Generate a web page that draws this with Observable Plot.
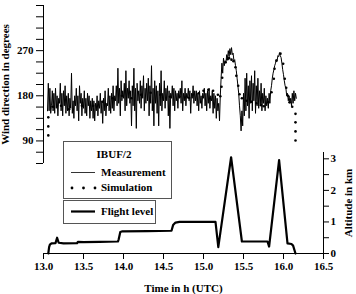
<!DOCTYPE html>
<html><head><meta charset="utf-8">
<script src="https://cdn.jsdelivr.net/npm/d3@7"></script>
<script src="https://cdn.jsdelivr.net/npm/@observablehq/plot@0.6"></script>
<style>
body{margin:0;background:#fff;}
#wrap{position:relative;width:356px;height:294px;font-family:"Liberation Serif","Times New Roman",serif;}
#wrap svg{position:absolute;left:0;top:0;}
</style></head><body><div id="wrap"></div>
<script>
// ---- data ----
const timeTicks = [13.0, 13.5, 14.0, 14.5, 15.0, 15.5, 16.0, 16.5];
const windTicks = [45, 67.5, 90, 112.5, 135, 157.5, 180, 202.5, 225, 247.5, 270, 292.5, 315, 337.5, 360];
const windLabels = [90, 180, 270];
const altTicks = [0, 0.5, 1, 1.5, 2, 2.5, 3];
const altLabels = [0, 1, 2, 3];
const timeDomain = [13, 16.5];
const windDomain = [45, 360];
const altDomain = [0, 3.2];

// measurement: blocks of [start time (h), values every 0.01 h (degrees)]
const measBlocks = [
  [13.05, [150,205,150,195,145]],
  [13.10, [160,190,150,185,145,195,155,180,140,175]],
  [13.20, [165,205,150,185,140,190,160,200,145,180]],
  [13.30, [150,185,140,175,155,225,145,170,135,180]],
  [13.40, [160,195,150,180,130,200,165,185,140,175]],
  [13.50, [155,190,145,175,140,185,160,180,135,170]],
  [13.60, [150,175,135,170,130,165,150,180,140,170]],
  [13.70, [155,185,145,170,125,175,150,190,140,165]],
  [13.80, [160,195,150,180,145,185,155,200,150,180]],
  [13.90, [170,200,160,235,165,195,140,210,170,190]],
  [14.00, [175,205,150,230,160,195,175,210,165,190]],
  [14.10, [120,200,160,235,150,195,115,205,170,190]],
  [14.20, [165,210,155,200,175,220,150,195,165,205]],
  [14.30, [170,215,140,200,165,240,150,195,120,210]],
  [14.40, [165,200,145,190,120,205,160,230,150,185]],
  [14.50, [170,210,155,195,170,200,140,190,115,185]],
  [14.60, [175,200,160,195,150,190,170,185,155,190]],
  [14.70, [175,195,165,210,150,185,170,195,160,185]],
  [14.80, [175,195,170,190,145,185,175,200,165,190]],
  [14.90, [170,190,160,185,150,190,165,180,155,185]],
  [15.00, [175,195,160,185,150,190,165,195,155,180]],
  [15.10, [170,190,145,185,155,180,135,175,150,165]],
  [15.20, [130,180,215,245,225,255,240,250,245,262]],
  [15.30, [255,270,258,274,262,276,262,265,250,252]],
  [15.40, [240,230,215,200,185,160,140,110,150,120]],
  [15.50, [185,140,215,150,225,160,200,135,210,165]],
  [15.60, [220,150,205,170,230,145,200,160,215,155]],
  [15.70, [190,160,205,150,185,165,195,150,180,160]],
  [15.80, [175,155,185,165,190,200,215,225,232,240]],
  [15.90, [245,252,250,260,258,266,260,256,245,232]],
  [16.00, [222,210,200,195,180,185,170,180,165,175]],
  [16.10, [160,185,165,190,170,185,175]]
];

// simulation dots: time (h), wind direction (degrees)
const simTime = [13.06,13.06,13.06,13.12,13.22,13.32,13.48,13.62,13.74,13.86,13.98,14.10,14.22,14.34,14.46,14.58,14.70,14.82,14.94,15.00,15.06,15.12,15.18,15.21,15.225,15.234,15.275,15.30,15.32,15.35,15.375,15.40,15.41,15.434,15.45,15.48,15.54,15.60,15.66,15.72,15.754,15.81,15.85,15.879,15.888,15.912,15.962,15.996,16.016,16.034,16.054,16.075,16.109,16.15,16.15,16.15,16.15];
const simWind = [137,119,101,158,160,153,160,160,168,175,180,175,182,186,182,178,178,176,185,190,192,190,182,179,198,216,247,253,255,252,249,237,220,200,183,175,170,168,165,161,159,167,187,214,234,250,264,244,214,196,180,167,158,144,127,109,91];

// flight level: time (h), altitude (km)
const flightTime = [13.06,13.07,13.08,13.10,13.15,13.17,13.19,13.25,13.42,13.43,13.50,13.70,13.93,13.94,13.96,13.98,14.30,14.60,14.62,14.65,14.70,15.15,15.185,15.345,15.48,15.80,15.82,15.945,16.05,16.10,16.12,16.15];
const flightAlt  = [0,0.2,0.28,0.32,0.33,0.5,0.34,0.32,0.33,0.37,0.36,0.37,0.38,0.45,0.68,0.7,0.71,0.72,0.9,0.98,1.0,1.0,0.2,3.05,0.38,0.38,0.22,2.96,0.32,0.3,0.25,0];

const legendTitle = "IBUF/2";
const legendItems = ["Measurement", "Simulation", "Flight level"];

// ---- build tables ----
const meas = [];
for (const [t0, vals] of measBlocks) vals.forEach((v, i) => meas.push({t: t0 + i * 0.01, v}));
const sim = simTime.map((t, i) => ({t, v: simWind[i]}));
const flight = flightTime.map((t, i) => ({t, a: flightAlt[i]}));

const font = {background: "transparent", fontFamily: "'Liberation Serif', 'Times New Roman', serif", fontSize: "11px", fontWeight: "bold", color: "black", overflow: "visible"};

const lower = Plot.plot({
  width: 356, height: 294,
  marginLeft: 43, marginRight: 33, marginTop: 152, marginBottom: 41,
  x: {domain: timeDomain},
  y: {domain: altDomain},
  style: font,
  marks: [
    Plot.axisX({ticks: timeTicks, tickFormat: d => d.toFixed(1), tickSize: 6, tickPadding: 3,
      label: "Time in h (UTC)", labelAnchor: "center", labelOffset: 38, labelArrow: "none"}),
    Plot.axisY({anchor: "right", ticks: altTicks, tickFormat: d => altLabels.includes(d) ? String(d) : "",
      tickSize: 5, tickPadding: 2, label: "Altitude in km", labelAnchor: "center", labelOffset: 28, labelArrow: "none"}),
    Plot.ruleY([altDomain[0]], {x1: timeDomain[0], x2: timeDomain[1], stroke: "black"}),
    Plot.ruleX([timeDomain[1]], {y1: altDomain[0], y2: altDomain[1], stroke: "black"}),
    Plot.line(flight, {x: "t", y: "a", stroke: "black", strokeWidth: 2.2, strokeLinejoin: "round"})
  ]
});

const upper = Plot.plot({
  width: 356, height: 294,
  marginLeft: 43, marginRight: 33, marginTop: 5, marginBottom: 131,
  x: {domain: timeDomain, axis: null},
  y: {domain: windDomain},
  style: font,
  marks: [
    Plot.axisY({ticks: windTicks, tickFormat: d => windLabels.includes(d) ? String(d) : "",
      tickSize: 7, tickPadding: 3, label: "Wind direction in degrees", labelAnchor: "center", labelOffset: 42, labelArrow: "none"}),
    Plot.ruleX([timeDomain[0]], {y1: windDomain[0], y2: windDomain[1], stroke: "black"}),
    Plot.line(meas, {x: "t", y: "v", stroke: "black", strokeWidth: 1.0}),
    Plot.dot(sim, {x: "t", y: "v", r: 1.3, fill: "black", stroke: null})
  ]
});

const wrap = document.getElementById("wrap");
wrap.appendChild(lower);
wrap.appendChild(upper);

// legend overlay
const ns = "http://www.w3.org/2000/svg";
const leg = document.createElementNS(ns, "svg");
leg.setAttribute("width", 356); leg.setAttribute("height", 294);
leg.setAttribute("font-family", "'Liberation Serif', 'Times New Roman', serif");
leg.setAttribute("font-size", "11"); leg.setAttribute("font-weight", "bold");
function el(tag, attrs, text) {
  const e = document.createElementNS(ns, tag);
  for (const k in attrs) e.setAttribute(k, attrs[k]);
  if (text != null) e.textContent = text;
  leg.appendChild(e); return e;
}
el("rect", {x: 63.5, y: 141.5, width: 108, height: 57, fill: "white", stroke: "#555", "stroke-width": 1});
el("rect", {x: 63.5, y: 200.5, width: 92, height: 23, fill: "white", stroke: "#555", "stroke-width": 1});
el("text", {x: 114, y: 158, "text-anchor": "middle"}, legendTitle);
el("line", {x1: 71, x2: 95, y1: 172.5, y2: 172.5, stroke: "black", "stroke-width": 0.8});
el("text", {x: 101, y: 176}, legendItems[0]);
for (const cx of [72, 83.5, 95]) el("circle", {cx, cy: 188, r: 1.4, fill: "black"});
el("text", {x: 101, y: 191}, legendItems[1]);
el("line", {x1: 71, x2: 95, y1: 211.5, y2: 211.5, stroke: "black", "stroke-width": 2.2});
el("text", {x: 101, y: 215}, legendItems[2]);
wrap.appendChild(leg);
</script></body></html>
